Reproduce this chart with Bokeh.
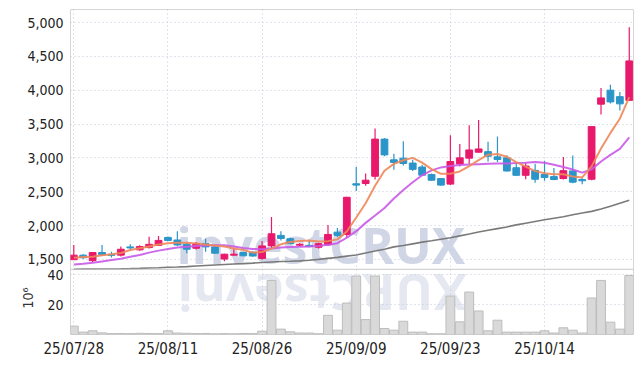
import math
from bokeh.plotting import figure
from bokeh.models import (Range1d, FixedTicker, NumeralTickFormatter, Label, ColumnDataSource,
                          Span, Title)
from bokeh.embed import file_html
from bokeh.resources import INLINE

dates = ["25/07/28", "25/07/29", "25/07/30", "25/07/31", "25/08/01", "25/08/04", "25/08/05", "25/08/06",
         "25/08/07", "25/08/08", "25/08/11", "25/08/12", "25/08/13", "25/08/14", "25/08/18", "25/08/19",
         "25/08/20", "25/08/21", "25/08/22", "25/08/25", "25/08/26", "25/08/27", "25/08/28", "25/08/29",
         "25/09/01", "25/09/02", "25/09/03", "25/09/04", "25/09/05", "25/09/08", "25/09/09", "25/09/10",
         "25/09/11", "25/09/12", "25/09/15", "25/09/16", "25/09/17", "25/09/18", "25/09/19", "25/09/22",
         "25/09/23", "25/09/24", "25/09/25", "25/09/26", "25/09/29", "25/09/30", "25/10/01", "25/10/02",
         "25/10/10", "25/10/13", "25/10/14", "25/10/15", "25/10/16", "25/10/17", "25/10/20", "25/10/21",
         "25/10/22", "25/10/23", "25/10/24", "25/10/27"]

tick_labels = ["25/07/28", "25/08/11", "25/08/26", "25/09/09", "25/09/23", "25/10/14"]

opens = [1496, 1563, 1481, 1602, 1575, 1563, 1685, 1641, 1675, 1708,
         1825, 1787, 1723, 1665, 1733, 1685, 1505, 1563, 1602, 1606,
         1515, 1700, 1855, 1806, 1710, 1708, 1680, 1714, 1903, 1869,
         2618, 2622, 2729, 3278, 2972, 2997, 2924, 2866, 2754, 2695,
         2613, 2909, 2997, 3085, 3093, 3016, 3001, 2855, 2743, 2816,
         2754, 2724, 2695, 2808, 2681, 2685, 3795, 4002, 3906, 3851]
highs = [1714, 1575, 1608, 1714, 1612, 1690, 1723, 1708, 1835, 1845,
         1840, 1918, 1748, 1758, 1806, 1708, 1585, 1665, 1615, 1620,
         1773, 2127, 1918, 1820, 1743, 1781, 1745, 2010, 1966, 2425,
         2866, 2768, 3434, 3293, 3060, 3245, 2972, 2899, 2770, 2700,
         3337, 3206, 3483, 3560, 3239, 3318, 3035, 2924, 2929, 2910,
         2958, 2851, 3012, 3035, 2720, 3470, 4032, 4080, 3974, 4930]
lows = [1490, 1505, 1456, 1554, 1530, 1544, 1641, 1627, 1660, 1700,
        1770, 1700, 1592, 1646, 1612, 1585, 1471, 1554, 1545, 1540,
        1495, 1665, 1781, 1725, 1695, 1680, 1660, 1700, 1830, 1820,
        2510, 2589, 2681, 3026, 2826, 2889, 2808, 2735, 2660, 2590,
        2598, 2875, 2914, 3075, 2947, 2938, 2800, 2735, 2685, 2633,
        2662, 2670, 2680, 2627, 2612, 2671, 3643, 3803, 3701, 3845]
closes = [1563, 1525, 1602, 1568, 1560, 1650, 1670, 1690, 1723, 1781,
          1781, 1714, 1650, 1733, 1685, 1592, 1577, 1577, 1554, 1550,
          1700, 1879, 1810, 1733, 1723, 1690, 1733, 1869, 1855, 2418,
          2598, 2671, 3278, 3045, 2933, 2918, 2831, 2745, 2671, 2598,
          2947, 3001, 3118, 3133, 3026, 2977, 2807, 2743, 2880, 2685,
          2710, 2681, 2812, 2642, 2662, 3463, 3887, 3828, 3799, 4434]

ma5 = [1525, 1535, 1540, 1560, 1577, 1595, 1640, 1665, 1690, 1720,
       1738, 1745, 1745, 1735, 1722, 1705, 1690, 1660, 1641, 1600,
       1610, 1660, 1723, 1758, 1773, 1781, 1765, 1770, 1796, 1913,
       2120, 2330, 2590, 2810, 2912, 2965, 3001, 2930, 2835, 2765,
       2765, 2800, 2880, 2968, 3048, 3058, 3018, 2938, 2872, 2805,
       2775, 2760, 2760, 2725, 2712, 2875, 3140, 3370, 3580, 3900]
ma20 = [1423, 1435, 1450, 1470, 1490, 1510, 1538, 1565, 1600, 1630,
        1655, 1675, 1688, 1698, 1705, 1708, 1708, 1690, 1670, 1655,
        1650, 1660, 1675, 1683, 1686, 1690, 1700, 1715, 1740, 1820,
        1918, 2040, 2150, 2260, 2400, 2525, 2640, 2743, 2816, 2860,
        2880, 2895, 2902, 2908, 2914, 2916, 2918, 2924, 2929, 2938,
        2929, 2900, 2866, 2830, 2783, 2831, 2947, 3045, 3133, 3303]
ma60 = [1355, 1356, 1357, 1358, 1359, 1360, 1363, 1367, 1372, 1377,
        1383, 1388, 1394, 1402, 1410, 1418, 1425, 1432, 1438, 1445,
        1455, 1462, 1468, 1473, 1479, 1488, 1500, 1515, 1530, 1548,
        1565, 1595, 1625, 1650, 1685, 1705, 1730, 1755, 1775, 1798,
        1820, 1848, 1875, 1905, 1930, 1955, 1980, 2010, 2035, 2060,
        2085, 2108, 2130, 2160, 2185, 2210, 2245, 2285, 2330, 2375]

volume = [5.6, 1.6, 2.5, 1.1, 0.6, 0.7, 0.6, 0.8, 0.7, 0.6,
          2.5, 1.0, 0.8, 0.6, 0.7, 0.5, 0.6, 0.5, 0.7, 0.6,
          2.2, 36.3, 3.6, 1.8, 1.0, 1.0, 0.5, 12.9, 2.9, 21.1,
          39.3, 10.0, 39.3, 4.0, 2.9, 8.9, 1.6, 1.6, 0.5, 0.5,
          25.8, 8.5, 28.5, 15.8, 2.5, 9.6, 1.6, 1.6, 1.6, 1.6,
          2.5, 1.0, 4.5, 2.9, 1.0, 24.5, 36.3, 8.3, 3.6, 39.6]

price_ticks = [1500, 2000, 2500, 3000, 3500, 4000, 4500, 5000]
volume_ticks = [20, 40]
volume_unit = "10\u2076"

UP = "#e8196b"
DOWN = "#2b95c9"
FONT = "'Liberation Sans Narrow', 'DejaVu Sans Condensed', sans-serif"
GRID = "#c3c8d8"
BORDER = "#d6d6d6"
WM = "#c5cce0"

# one canvas: price panel on top, volume panel below (own y range sharing the frame)
P_MIN, P_MAX = 390, 5194
V_MIN, V_MAX = 0, 218.2
VOL_TOP = 43.8   # top of the volume panel, in volume units


def vol_to_price(v):
    # position of a volume value on the shared frame, expressed in price units
    return P_MIN + (v - V_MIN) / (V_MAX - V_MIN) * (P_MAX - P_MIN)


xs = list(range(len(dates)))
tick_idx = [dates.index(t) for t in tick_labels]
colors = [UP if c >= o else DOWN for o, c in zip(opens, closes)]
src = ColumnDataSource(dict(
    x=xs, o=opens, h=highs, l=lows, c=closes,
    top=[max(o, c) for o, c in zip(opens, closes)],
    bot=[min(o, c) for o, c in zip(opens, closes)],
    col=colors, vol=volume, ma5=ma5, ma20=ma20, ma60=ma60))

p = figure(width=640, height=360, x_range=Range1d(-0.35, 59.45), y_range=Range1d(P_MIN, P_MAX),
           output_backend="svg", toolbar_location=None,
           min_border_left=70, min_border_right=7, min_border_top=9, min_border_bottom=22)
p.extra_y_ranges = {"vol": Range1d(V_MIN, V_MAX)}

p.background_fill_color = "white"
p.border_fill_color = "white"
p.outline_line_color = BORDER

vol_tick_pos = [round(vol_to_price(t)) for t in volume_ticks]
left_ticks = vol_tick_pos + price_ticks

p.xgrid.ticker = FixedTicker(ticks=tick_idx)
p.xgrid.grid_line_color = GRID
p.xgrid.grid_line_dash = "1 3"
p.ygrid.ticker = FixedTicker(ticks=left_ticks)
p.ygrid.grid_line_color = GRID
p.ygrid.grid_line_dash = "1 3"

ya = p.yaxis[0]
ya.ticker = FixedTicker(ticks=left_ticks)
ya.formatter = NumeralTickFormatter(format="0,0")
ya.major_label_overrides = {pos: str(t) for pos, t in zip(vol_tick_pos, volume_ticks)}
ya.axis_line_color = None
ya.major_tick_line_color = None
ya.minor_tick_line_color = None
ya.major_tick_out = 0
ya.major_tick_in = 0
ya.minor_tick_out = 0
ya.major_label_standoff = 7
ya.major_label_text_font = FONT
ya.major_label_text_font_size = "14px"
ya.major_label_text_color = "#222222"

# unit label of the volume panel
p.add_layout(Title(text=volume_unit, align="left", vertical_align="bottom", offset=26,
                   standoff=-22, text_font=FONT, text_font_size="14px",
                   text_font_style="normal", text_color="#333333"), "left")

p.xaxis.ticker = FixedTicker(ticks=tick_idx)
p.xaxis.major_label_overrides = {i: dates[i] for i in tick_idx}
p.xaxis.axis_line_color = None
p.xaxis.major_tick_line_color = None
p.xaxis.minor_tick_line_color = None
p.xaxis.major_tick_out = 0
p.xaxis.major_tick_in = 0
p.xaxis.minor_tick_out = 0
p.xaxis.major_label_standoff = 5
p.xaxis.major_label_text_font = FONT
p.xaxis.major_label_text_font_size = "15px"
p.xaxis.major_label_text_color = "#222222"

# separator between the panels
p.add_layout(Span(location=vol_to_price(VOL_TOP), dimension="width",
                  line_color="#c8c8c8", line_width=1))

# watermark (text and its reflection)
p.add_layout(Label(x=10.9, y=1208, text="investCRUX", text_font="Open Sans",
                   text_font_style="bold", text_font_size="50px",
                   text_color=WM, text_alpha=0.8, level="underlay"))
p.add_layout(Label(x=41.7, y=50.4, y_range_name="vol", text="XURCtsevni", angle=math.pi,
                   text_font="Open Sans", text_font_style="bold", text_font_size="50px",
                   text_color=WM, text_alpha=0.45, level="underlay"))

# candles
p.segment(x0="x", y0="l", x1="x", y1="h", color="col", line_width=1.2, source=src)
p.vbar(x="x", width=0.72, top="top", bottom="bot", fill_color="col", line_color="col", source=src)

# moving averages
p.line("x", "ma60", source=src, line_color="#7a7a7a", line_width=1.6)
p.line("x", "ma20", source=src, line_color="#c95ae8", line_width=2, line_alpha=0.9)
p.line("x", "ma5", source=src, line_color="#f0875a", line_width=2, line_alpha=0.9)

# volume
p.vbar(x="x", width=0.94, top="vol", bottom=0, y_range_name="vol", fill_color="#d9d9d9",
       line_color="#bdbdbd", line_width=1, source=src)

open("out.html", "w").write(file_html(p, INLINE))
